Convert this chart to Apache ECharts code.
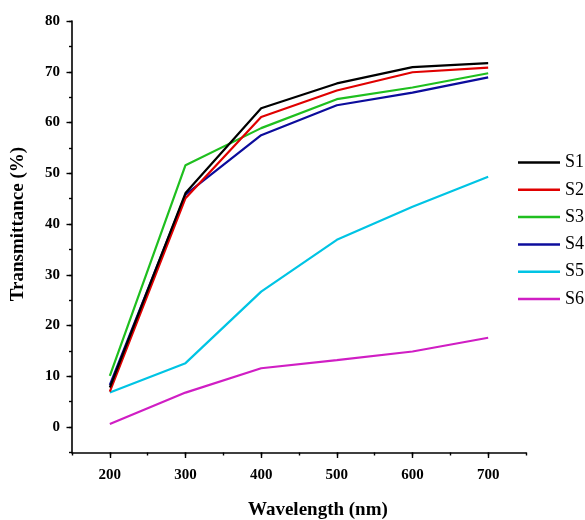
<!DOCTYPE html>
<html>
<head>
<meta charset="utf-8">
<script src="https://cdn.jsdelivr.net/npm/echarts@6/dist/echarts.min.js"></script>
<style>
  html, body { margin: 0; padding: 0; background: #fff; }
  #chart { width: 585px; height: 520px; }
</style>
</head>
<body>
<div id="chart"></div>
<script>
// Wavelength samples (nm) and transmittance (%) for each sample
const wavelengths = [200, 300, 400, 500, 600, 700];
const s1 = [7.8, 46.1, 62.8, 67.7, 70.9, 71.7];
const s2 = [7.0, 45.1, 61.1, 66.3, 69.9, 70.8];
const s3 = [10.1, 51.6, 58.9, 64.6, 66.9, 69.7];
const s4 = [8.3, 45.8, 57.5, 63.4, 65.9, 68.9];
const s5 = [6.8, 12.6, 26.7, 36.9, 43.4, 49.3];
const s6 = [0.6, 6.8, 11.6, 13.2, 14.9, 17.6];
const seriesNames = ['S1', 'S2', 'S3', 'S4', 'S5', 'S6'];
const seriesColors = ['#000000', '#e00000', '#1fbf1f', '#0c0c9c', '#00c4e4', '#d01ec4'];
const seriesValues = [s1, s2, s3, s4, s5, s6];

const serif = '"Liberation Serif", "Times New Roman", serif';
const axisColor = '#000';

// plot frame in pixels
const L = 72, R = 59, T = 21, B = 67.5;
const plotW = 585 - L - R;
// left edge of the 200 nm tick (x range is 150..750)
const left200 = L + plotW * (50 / 600);

const chart = echarts.init(document.getElementById('chart'), null, { renderer: 'canvas' });

const series = seriesNames.map((name, i) => ({
  name,
  type: 'line',
  xAxisIndex: 0,
  yAxisIndex: 0,
  symbol: 'none',
  showSymbol: false,
  lineStyle: { color: seriesColors[i], width: 2.2 },
  itemStyle: { color: seriesColors[i] },
  data: wavelengths.map((w, j) => [w, seriesValues[i][j]]),
  z: 10 - i
}));

chart.setOption({
  animation: false,
  backgroundColor: '#fff',
  grid: [
    // plotting area, value range -5..80
    { left: L, right: R, top: T, bottom: B, containLabel: false, outerBoundsMode: 'none' },
    // labelled scale 0..80 sharing the same vertical pixel scale
    { left: L, right: R, top: T, bottom: 92.9, containLabel: false, outerBoundsMode: 'none' },
    // labelled scale 200..750 sharing the same horizontal pixel scale
    { left: left200, right: R, top: T, bottom: B, containLabel: false, outerBoundsMode: 'none' }
  ],
  xAxis: [
    {
      gridIndex: 0,
      type: 'value',
      min: 150,
      max: 750,
      interval: 50,
      axisLine: { show: true, onZero: false, lineStyle: { color: axisColor, width: 1.6 } },
      axisTick: { show: true, inside: false, length: 3, lineStyle: { color: axisColor, width: 1.4 } },
      axisLabel: { show: false },
      splitLine: { show: false }
    },
    { gridIndex: 1, type: 'value', min: 150, max: 750, show: false },
    {
      gridIndex: 2,
      type: 'value',
      position: 'bottom',
      min: 200,
      max: 750,
      interval: 100,
      name: 'Wavelength (nm)',
      nameLocation: 'middle',
      nameGap: 48,
      nameTextStyle: { fontFamily: serif, fontWeight: 'bold', fontSize: 19, color: '#000' },
      axisLine: { show: false, onZero: false },
      axisTick: { show: true, inside: false, length: 5.5, lineStyle: { color: axisColor, width: 1.4 } },
      axisLabel: {
        margin: 15,
        fontFamily: serif,
        fontWeight: 'bold',
        fontSize: 15,
        color: '#000',
        showMaxLabel: false,
        formatter: v => (v % 100 === 0 ? String(v) : '')
      },
      splitLine: { show: false }
    }
  ],
  yAxis: [
    {
      gridIndex: 0,
      type: 'value',
      min: -5,
      max: 80,
      interval: 5,
      axisLine: { show: true, onZero: false, lineStyle: { color: axisColor, width: 1.6 } },
      axisTick: { show: true, inside: false, length: 3, lineStyle: { color: axisColor, width: 1.4 } },
      axisLabel: { show: false },
      splitLine: { show: false }
    },
    {
      gridIndex: 1,
      type: 'value',
      min: 0,
      max: 80,
      interval: 10,
      name: 'Transmittance (%)',
      nameLocation: 'middle',
      nameGap: 44,
      nameTextStyle: { fontFamily: serif, fontWeight: 'bold', fontSize: 19, color: '#000' },
      axisLine: { show: false, onZero: false },
      axisTick: { show: true, inside: false, length: 5.5, lineStyle: { color: axisColor, width: 1.4 } },
      axisLabel: {
        margin: 12,
        fontFamily: serif,
        fontWeight: 'bold',
        fontSize: 15,
        color: '#000'
      },
      splitLine: { show: false }
    },
    { gridIndex: 2, type: 'value', min: -5, max: 80, show: false }
  ],
  legend: {
    orient: 'vertical',
    left: 518,
    top: 153,
    padding: 0,
    itemWidth: 42,
    itemHeight: 2.5,
    itemGap: 8.3,
    icon: 'rect',
    textStyle: { fontFamily: serif, fontSize: 18, color: '#000', lineHeight: 19 },
    data: seriesNames.map((n, i) => ({ name: n, itemStyle: { color: seriesColors[i] } }))
  },
  series
});
</script>
</body>
</html>
